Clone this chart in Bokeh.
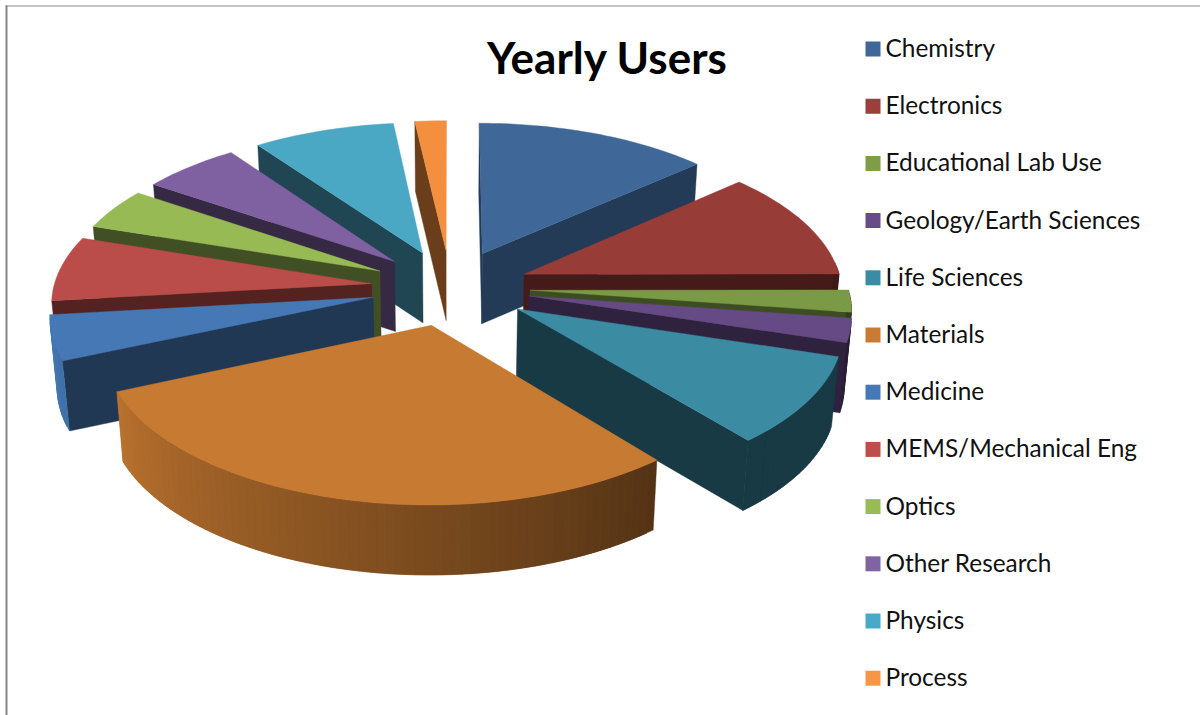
import numpy as np
from bokeh.core.properties import value
from bokeh.embed import file_html
from bokeh.models import ColumnDataSource
from bokeh.plotting import figure
from bokeh.resources import INLINE

# Yearly share of users per research area, percent
categories = ["Chemistry", "Electronics", "Educational Lab Use", "Geology/Earth Sciences",
              "Life Sciences", "Materials", "Medicine", "MEMS/Mechanical Eng",
              "Optics", "Other Research", "Physics", "Process"]
users = [13.4, 11.5, 2.3, 2.5, 9.2, 29.4, 4.7, 6.8, 4.4, 5.6, 8.1, 1.8]
top_colors = ["#3F6797", "#983C38", "#7A9A45", "#654A85", "#3B8BA3", "#C77A32",
              "#4578B4", "#BA4C4A", "#98BA55", "#7F60A0", "#4BA8C4", "#F38F3E"]
legend_colors = ["#3F6797", "#9C3F3C", "#7F9C47", "#664C88", "#3A8CA5", "#C97A33",
                 "#4479B6", "#BD4E4B", "#99BB55", "#7F63A2", "#49A9C6", "#F79646"]
wall_shade = [0.58, 0.45, 0.50, 0.47, 0.42, 0.42, 0.47, 0.45, 0.43, 0.43, 0.42, 0.44]

# Camera of the tilted pie: screen centre, plane scales, foreshortening, extrusion
CX, CY = 450.0, 287.0
SCALE_X, SCALE_Y = 318.0, 151.5
PERSPECTIVE = 0.108
EXPLODE = 0.25
DEPTH = 70.0
BOTTOM_SHRINK = 0.982
ARC_STEP = 1.5


def project(px, py, lower=False):
    """Map a point of the pie plane to the page, optionally on the lower face."""
    w = 1.0 + PERSPECTIVE * py
    sx = CX + SCALE_X * px / w
    sy = CY - SCALE_Y * py / w
    if lower:
        sx = CX + (sx - CX) * BOTTOM_SHRINK
        sy = sy + DEPTH
    return float(sx), float(sy)


def shade(color, factor):
    rgb = [int(color[i:i + 2], 16) for i in (1, 3, 5)]
    return "#" + "".join(f"{min(255, int(c * factor)):02X}" for c in rgb)


def rim_factor(deg):
    """Lighting of the curved rim: dark on the right, brightening to the left."""
    return float(np.clip(0.42 + 0.0048 * (deg - 140.0), 0.42, 1.0))


def wall_faces_viewer(apex, corner, inner):
    """A radial wall shows when the slice's face lies above its edge on the page."""
    ax, ay = project(*apex)
    cx, cy = project(*corner)
    mx, my = project(*inner)
    if abs(cx - ax) < 3.0:
        return False
    return my < ay + (cy - ay) * (mx - ax) / (cx - ax)


total = sum(users)
edges = np.cumsum([0.0] + users) / total * 360.0
mids = (edges[:-1] + edges[1:]) / 2.0
draw_order = np.argsort(-np.cos(np.radians(mids)))

xs, ys, fills = [], [], []


def add(polygon, color):
    xs.append([pt[0] for pt in polygon])
    ys.append([pt[1] for pt in polygon])
    fills.append(color)


for i in draw_order:
    start, end, mid = edges[i], edges[i + 1], mids[i]
    ox = EXPLODE * np.sin(np.radians(mid))
    oy = EXPLODE * np.cos(np.radians(mid))
    steps = max(3, int(np.ceil((end - start) / ARC_STEP)) + 1)
    angles = np.linspace(start, end, steps)
    rim = [(ox + np.sin(np.radians(t)), oy + np.cos(np.radians(t))) for t in angles]
    apex = (ox, oy)

    # radial walls
    wall = shade(top_colors[i], wall_shade[i])
    for corner in (rim[0], rim[-1]):
        if wall_faces_viewer(apex, corner, rim[steps // 2]):
            add([project(*apex), project(*corner), project(*corner, True), project(*apex, True)], wall)

    # curved rim, only the part turned towards the viewer; each strip runs
    # under the next one so the gradient has no seams
    for j in range(steps - 1):
        t = (angles[j] + angles[j + 1]) / 2.0
        if 85.0 < t < 263.0:
            far = min(j + 2, steps - 1)
            add([project(*rim[j]), project(*rim[far]),
                 project(*rim[far], True), project(*rim[j], True)],
                shade(top_colors[i], rim_factor(t)))

    # upper face
    add([project(*apex)] + [project(*pt) for pt in rim], top_colors[i])

p = figure(width=1200, height=715, x_range=(0, 1200), y_range=(715, 0),
           output_backend="svg", toolbar_location=None, min_border=0)
p.axis.visible = False
p.grid.visible = False
p.outline_line_color = None
p.background_fill_color = "#FFFFFF"

# frame corner of the chart area
p.segment(x0=[6.0, 5.0], y0=[5.0, 5.5], x1=[6.0, 1200.0], y1=[715.0, 5.5],
          line_color="#868686", line_width=[2, 1])

p.patches("xs", "ys", fill_color="fills", line_color="fills", line_width=0.4,
          source=ColumnDataSource(dict(xs=xs, ys=ys, fills=fills)))

# legend column
row_y = [48.5 + 57.2 * n for n in range(len(categories))]
p.scatter(x=[872.5] * len(categories), y=row_y, marker="square", size=15,
          fill_color=legend_colors, line_color=None)
p.text(x=[885] * len(categories), y=[v - 1.5 for v in row_y], text=categories,
       text_font=value("Lato"), text_font_size="24.4px", text_color="#111111",
       text_baseline="middle", text_align="left")

p.text(x=[607], y=[56], text=["Yearly Users"], text_font=value("Lato"),
       text_font_style="bold", text_font_size="44px", text_color="#000000",
       text_baseline="middle", text_align="center")

open("out.html", "w").write(file_html(p, INLINE))
